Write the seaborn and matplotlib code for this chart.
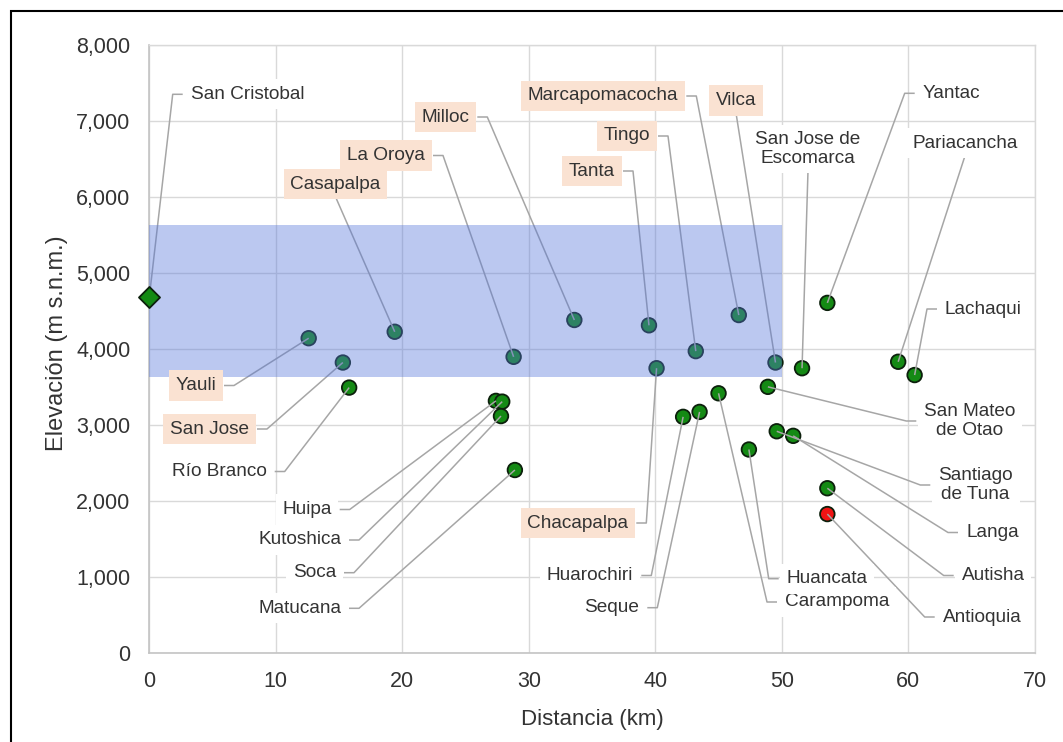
import matplotlib
matplotlib.use("Agg")
import matplotlib.pyplot as plt
import pandas as pd
import seaborn as sns
from matplotlib.patches import Rectangle
from matplotlib.ticker import FuncFormatter

# Stations along the route: distance (km) and elevation (m a.s.l.)
estaciones = [
    "San Cristobal", "Yauli", "San Jose", "Río Branco", "Casapalpa",
    "Huipa", "Kutoshica", "Soca", "Matucana", "La Oroya", "Milloc",
    "Tanta", "Chacapalpa", "Huarochiri", "Tingo", "Seque", "Carampoma",
    "Marcapomacocha", "Huancata", "San Mateo\nde Otao", "Vilca",
    "Santiago\nde Tuna", "San Jose de\nEscomarca", "Langa", "Yantac",
    "Autisha", "Antioquia", "Pariacancha", "Lachaqui",
]
distancia_km = [
    0.0, 12.6, 15.3, 15.8, 19.4,
    27.4, 27.9, 27.8, 28.9, 28.8, 33.6,
    39.5, 40.1, 42.2, 43.2, 43.5, 45.0,
    46.6, 47.4, 48.9, 49.5,
    49.6, 51.6, 50.9, 53.6,
    53.6, 53.6, 59.2, 60.5,
]
elevacion_m = [
    4680, 4140, 3820, 3490, 4225,
    3315, 3305, 3115, 2405, 3895, 4380,
    4310, 3745, 3105, 3970, 3170, 3415,
    4445, 2675, 3500, 3820,
    2915, 3745, 2855, 4605,
    2165, 1825, 3830, 3655,
]
tipo = ["referencia"] + ["estacion"] * 25 + ["alerta"] + ["estacion"] * 2

# Highlighted stations (shaded label)
destacadas = ["Yauli", "San Jose", "Casapalpa", "La Oroya", "Milloc", "Tanta",
              "Chacapalpa", "Tingo", "Marcapomacocha", "Vilca"]

# Shaded elevation band
banda_km = [0, 50]
banda_elev = [3630, 5630]

x_ticks = [0, 10, 20, 30, 40, 50, 60, 70]
y_ticks = [0, 1000, 2000, 3000, 4000, 5000, 6000, 7000, 8000]

# Label placement in figure pixels (from top-left): text edge x, centre y, alignment
W, H = 1063, 742
posiciones = {
    "San Cristobal": (190.7, 94.3, "left"),
    "Yauli": (216, 385.5, "right"),
    "San Jose": (249, 429, "right"),
    "Río Branco": (266.7, 471.5, "right"),
    "Casapalpa": (335.5, 184.3, "center"),
    "Huipa": (331.7, 509.5, "right"),
    "Kutoshica": (341, 540, "right"),
    "Soca": (336, 572.7, "right"),
    "Matucana": (341, 608.3, "right"),
    "La Oroya": (425, 155.5, "right"),
    "Milloc": (469.3, 117, "right"),
    "Tanta": (615, 171, "right"),
    "Chacapalpa": (628.3, 523, "right"),
    "Huarochiri": (633.3, 575.5, "right"),
    "Tingo": (650, 136, "right"),
    "Seque": (639.3, 607.7, "right"),
    "Carampoma": (785, 602, "left"),
    "Marcapomacocha": (678.3, 96, "right"),
    "Huancata": (786.7, 578.7, "left"),
    "San Mateo\nde Otao": (924.3, 421, "left"),
    "Vilca": (736, 100.5, "center"),
    "Santiago\nde Tuna": (938.3, 485, "left"),
    "San Jose de\nEscomarca": (808, 149, "center"),
    "Langa": (966, 532.5, "left"),
    "Yantac": (922.7, 93.3, "left"),
    "Autisha": (961.7, 575.5, "left"),
    "Antioquia": (942.7, 617, "left"),
    "Pariacancha": (965, 143.3, "center"),
    "Lachaqui": (945, 309, "left"),
}

sns.set_theme(style="whitegrid")
plt.rcParams["font.family"] = ["Liberation Sans", "DejaVu Sans"]

TXT = "#333333"
fig = plt.figure(figsize=(W / 100, H / 100), dpi=100)
fig.patch.set_facecolor("white")
ax = fig.add_axes([149.3 / W, 1 - 652.7 / H, 885.5 / W, 607.7 / H])
ax.set_facecolor("white")

df = pd.DataFrame({
    "estacion": estaciones,
    "distancia": distancia_km,
    "elevacion": elevacion_m,
    "tipo": tipo,
})
colores = {"referencia": "#148a14", "estacion": "#148a14", "alerta": "#f01414"}
marcadores = {"referencia": "D", "estacion": "o", "alerta": "o"}

# Regular stations (under the translucent band)
sns.scatterplot(
    data=df[df["tipo"] != "referencia"], x="distancia", y="elevacion",
    hue="tipo", style="tipo", palette=colores, markers=marcadores,
    s=110, edgecolor="#0c200c", linewidth=1.3, legend=False,
    zorder=3, clip_on=False, ax=ax,
)
# Reference station (diamond, drawn on top)
sns.scatterplot(
    data=df[df["tipo"] == "referencia"], x="distancia", y="elevacion",
    hue="tipo", style="tipo", palette=colores, markers=marcadores,
    s=115, edgecolor="#0c200c", linewidth=1.3, legend=False,
    zorder=8, clip_on=False, ax=ax,
)

ax.fill_between(banda_km, banda_elev[0], banda_elev[1],
                color="#5576DA", alpha=0.4, lw=0, zorder=6)

ax.set_xlim(x_ticks[0], x_ticks[-1])
ax.set_ylim(y_ticks[0], y_ticks[-1])
ax.set_xticks(x_ticks)
ax.set_yticks(y_ticks)
ax.yaxis.set_major_formatter(FuncFormatter(lambda v, p: f"{v:,.0f}"))
ax.tick_params(length=0, pad=13.5, labelsize=15.5, labelcolor=TXT)
ax.grid(True, color="#d9d9d9", lw=1.0)
ax.set_axisbelow(True)
for side in ["left", "bottom"]:
    ax.spines[side].set_color("#c4c4c4")
    ax.spines[side].set_linewidth(1.2)
for side in ["top", "right"]:
    ax.spines[side].set_color("#d9d9d9")
    ax.spines[side].set_linewidth(1.0)

ax.set_xlabel("Distancia (km)", fontsize=16, color=TXT, va="center")
ax.xaxis.set_label_coords(0.5, -0.11)
ax.set_ylabel("Elevación (m s.n.m.)", fontsize=17, color=TXT, va="center")
ax.yaxis.set_label_coords(-0.104, 0.51)

# Station labels with boxed backgrounds
textos = []
for nombre in estaciones:
    tx, ty, ha = posiciones[nombre]
    fondo = "#FAE2D2" if nombre in destacadas else "white"
    t = fig.text(tx / W, 1 - ty / H, nombre, ha=ha, va="center", ma="center",
                 fontsize=13.7, color=TXT, linespacing=1.12, zorder=7,
                 bbox=dict(boxstyle="square,pad=0.35", fc=fondo, ec="none"))
    textos.append((t, ha, ty))

fig.canvas.draw()
renderer = fig.canvas.get_renderer()
inv = ax.transData.inverted()

# Leader lines: point -> elbow -> short horizontal stub next to the label
for (t, ha, ty), x, y in zip(textos, distancia_km, elevacion_m):
    bb = t.get_window_extent(renderer)
    p = ax.transData.transform((x, y))
    yc = H - ty
    if ha == "right":
        ruta = [p, (bb.x1 + 18, yc), (bb.x1 + 8, yc)]
    elif ha == "left":
        ruta = [p, (bb.x0 - 18, yc), (bb.x0 - 8, yc)]
    else:
        ruta = [p, ((bb.x0 + bb.x1) / 2, bb.y0 - 4)]
    pts = inv.transform(ruta)
    ax.plot(pts[:, 0], pts[:, 1], color="#a6a6a6", lw=1.1, zorder=4,
            clip_on=False, solid_capstyle="butt")

# Outer frame
fig.patches.append(Rectangle((11 / W, -0.05), 1.2, 1 - 11 / H + 0.05,
                             transform=fig.transFigure, fill=False,
                             ec="black", lw=1.5, zorder=10))

fig.savefig("out.png", dpi=100)
